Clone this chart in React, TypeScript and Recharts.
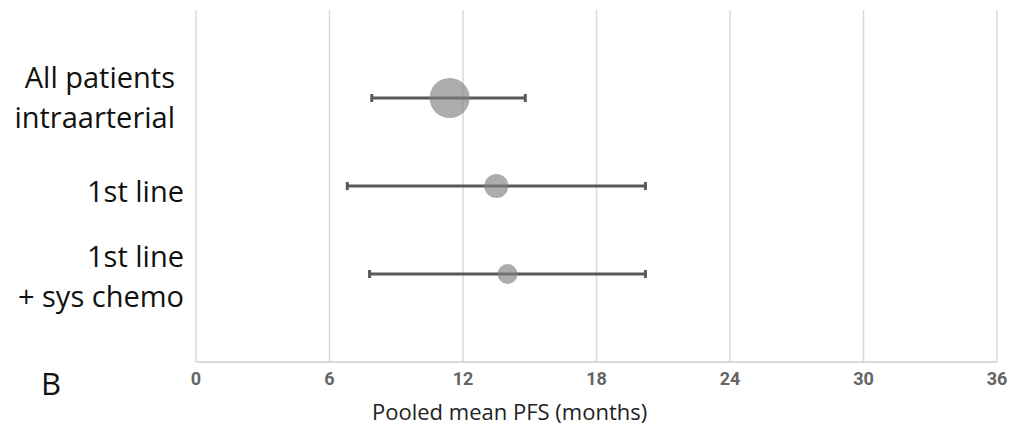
import React from "react"
import {
  ScatterChart,
  Scatter,
  XAxis,
  YAxis,
  ZAxis,
  CartesianGrid,
  ErrorBar,
} from "recharts"

const groups = ["All patients\nintraarterial", "1st line", "1st line\n+ sys chemo"]
const means = [11.4, 13.5, 14.0]
const lows = [7.9, 6.8, 7.8]
const highs = [14.8, 20.2, 20.2]
const weights = [400, 144, 100]
const xTicks = [0, 6, 12, 18, 24, 30, 36]

const data = groups.map((g, i) => ({
  group: g,
  row: i + 1,
  mean: means[i],
  weight: weights[i],
  err: [means[i] - lows[i], highs[i] - means[i]],
}))

const labelFont = "'Open Sans', 'Noto Sans', sans-serif"

// small per-row nudges so the labels sit like the original layout
const tickNudge: Record<number, { dx: number; dy: number }> = {
  1: { dx: -13, dy: 0 },
  2: { dx: -4, dy: 6 },
  3: { dx: -4, dy: 3 },
}

function GroupTick(props: any) {
  const { x, y, payload } = props
  const lines = groups[payload.value - 1].split("\n")
  const n = tickNudge[payload.value] ?? { dx: -4, dy: 0 }
  const lh = 40
  const start = y + n.dy - ((lines.length - 1) * lh) / 2
  const right = x + n.dx
  return (
    <text x={right} y={start} textAnchor="end" fontFamily={labelFont} fontSize={29} fill="#111">
      {lines.map((l, i) => (
        <tspan key={i} x={right} y={start + i * lh} dy="0.35em">
          {l}
        </tspan>
      ))}
    </text>
  )
}

function Dot(props: any) {
  const r = Math.sqrt((props.size ?? 300) / Math.PI)
  return <circle cx={props.cx} cy={props.cy} r={r} fill="#7f7f7f" fillOpacity={0.65} />
}

export default function App() {
  return (
    <div style={{ position: "absolute", left: 0, top: 0, width: 1015, height: 433, background: "#fff" }}>
      <ScatterChart width={1015} height={433} margin={{ top: 10, right: 18, left: 0, bottom: 41 }}>
        <CartesianGrid horizontal={false} stroke="#d9d9d9" strokeWidth={1.5} />
        <XAxis
          type="number"
          dataKey="mean"
          domain={[0, 36]}
          ticks={xTicks}
          interval={0}
          height={30}
          axisLine={{ stroke: "#d9d9d9", strokeWidth: 2 }}
          tickLine={false}
          tickMargin={4}
          tick={{ fill: "#646464", fontSize: 18, fontWeight: 700, fontFamily: "'Liberation Sans Narrow', 'Roboto', sans-serif" }}
        />
        <YAxis
          type="number"
          dataKey="row"
          domain={[0, 4]}
          reversed
          ticks={[1, 2, 3]}
          interval={0}
          width={196}
          axisLine={false}
          tickLine={false}
          tick={<GroupTick />}
        />
        <ZAxis type="number" dataKey="weight" domain={[0, 400]} range={[0, 1257]} />
        <Scatter data={data} shape={<Dot />} isAnimationActive={false}>
          <ErrorBar dataKey="err" direction="x" width={4} strokeWidth={3} stroke="#595959" />
        </Scatter>
      </ScatterChart>
      <div
        style={{
          position: "absolute",
          left: 372,
          top: 396,
          fontFamily: labelFont,
          fontSize: 22,
          color: "#222",
          whiteSpace: "nowrap",
        }}
      >
        Pooled mean PFS (months)
      </div>
      <div
        style={{
          position: "absolute",
          left: 41,
          top: 362,
          fontFamily: labelFont,
          fontSize: 31,
          color: "#111",
        }}
      >
        B
      </div>
    </div>
  )
}
